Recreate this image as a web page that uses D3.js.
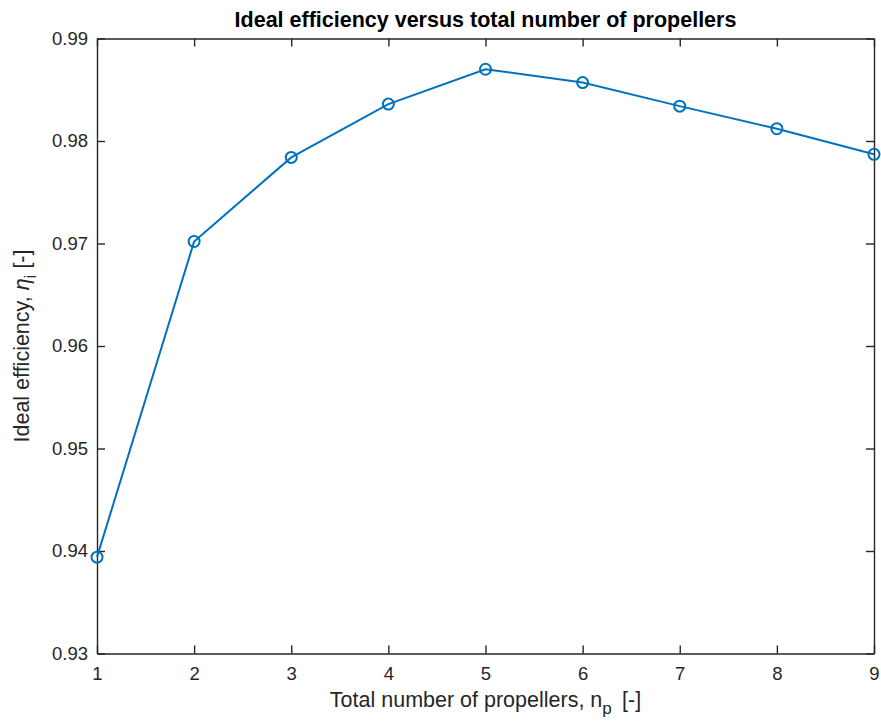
<!DOCTYPE html>
<html>
<head>
<meta charset="utf-8">
<script src="https://cdn.jsdelivr.net/npm/d3@7"></script>
<style>
  html, body { margin: 0; padding: 0; background: #fff; }
  svg { display: block; font-family: "Liberation Sans", Arial, Helvetica, sans-serif; }
</style>
</head>
<body>
<svg id="chart" width="881" height="725"></svg>
<script>
// Ideal efficiency for each total number of propellers
const propellers = [1, 2, 3, 4, 5, 6, 7, 8, 9];
const efficiency = [0.9394, 0.9702, 0.9784, 0.9836, 0.9870, 0.9857, 0.9834, 0.9812, 0.9787];
const xTicks = [1, 2, 3, 4, 5, 6, 7, 8, 9];
const yTicks = [0.93, 0.94, 0.95, 0.96, 0.97, 0.98, 0.99];

(function draw() {
  const margin = { left: 97, right: 7, top: 38.5, bottom: 71.5 };
  const W = 881, H = 725;
  const svg = d3.select("#chart");
  const axisColor = "#262626";
  const lineColor = "#0072BD";

  const x = d3.scaleLinear().domain([1, 9]).range([margin.left, W - margin.right]);
  const y = d3.scaleLinear().domain([0.93, 0.99]).range([H - margin.bottom, margin.top]);

  const tickLen = 8;
  const g = svg.append("g");

  // axes: bottom/left with labels, top/right as mirrored tick lines
  const axBottom = g.append("g").attr("transform", `translate(0,${y.range()[0]})`)
    .call(d3.axisBottom(x).tickValues(xTicks).tickFormat(d3.format("d")).tickSizeInner(-tickLen).tickSizeOuter(0).tickPadding(13));
  const axTop = g.append("g").attr("transform", `translate(0,${y.range()[1]})`)
    .call(d3.axisTop(x).tickValues(xTicks).tickFormat("").tickSizeInner(-tickLen).tickSizeOuter(0));
  const axLeft = g.append("g").attr("transform", `translate(${x.range()[0]},0)`)
    .call(d3.axisLeft(y).tickValues(yTicks).tickFormat(d3.format(".2f")).tickSizeInner(-tickLen).tickSizeOuter(0).tickPadding(9));
  const axRight = g.append("g").attr("transform", `translate(${x.range()[1]},0)`)
    .call(d3.axisRight(y).tickValues(yTicks).tickFormat("").tickSizeInner(-tickLen).tickSizeOuter(0));

  [axBottom, axTop, axLeft, axRight].forEach(a => {
    a.select(".domain").attr("stroke", axisColor).attr("stroke-width", 1.4);
    a.selectAll(".tick line").attr("stroke", axisColor).attr("stroke-width", 1.4);
    a.selectAll(".tick text").attr("fill", axisColor).style("font-size", "18.5px")
      .style("font-family", "\"Liberation Sans\", Arial, sans-serif");
  });

  // data line
  const line = d3.line().x((d, i) => x(propellers[i])).y(d => y(d));
  g.append("path").datum(efficiency)
    .attr("fill", "none").attr("stroke", lineColor).attr("stroke-width", 2)
    .attr("d", line);

  // circle markers
  g.selectAll("circle.pt").data(efficiency).enter().append("circle")
    .attr("class", "pt")
    .attr("cx", (d, i) => x(propellers[i])).attr("cy", d => y(d))
    .attr("r", 5.5).attr("fill", "none").attr("stroke", lineColor).attr("stroke-width", 2);

  // title
  svg.append("text")
    .attr("x", (x.range()[0] + x.range()[1]) / 2).attr("y", 27)
    .attr("text-anchor", "middle").attr("font-weight", "bold")
    .style("font-size", "21.5px").attr("fill", "#000")
    .text("Ideal efficiency versus total number of propellers");

  // x label with subscript
  const xl = svg.append("text")
    .attr("x", (x.range()[0] + x.range()[1]) / 2).attr("y", 707)
    .attr("text-anchor", "middle").style("font-size", "21.5px").attr("fill", axisColor);
  xl.append("tspan").text("Total number of propellers, n");
  xl.append("tspan").attr("dy", 7).style("font-size", "17px").text("p");
  xl.append("tspan").attr("dy", -7).text("\u2009 [-]");

  // y label with italic eta and subscript
  const yl = svg.append("text")
    .attr("transform", `translate(29,${(y.range()[0] + y.range()[1]) / 2}) rotate(-90)`)
    .attr("text-anchor", "middle").style("font-size", "21.5px").attr("fill", axisColor);
  yl.append("tspan").text("Ideal efficiency, ");
  yl.append("tspan").style("font-style", "italic").text("\u03B7");
  yl.append("tspan").attr("dy", 7).style("font-size", "17px").text("i");
  yl.append("tspan").attr("dy", -7).text(" [-]");
})();
</script>
</body>
</html>
